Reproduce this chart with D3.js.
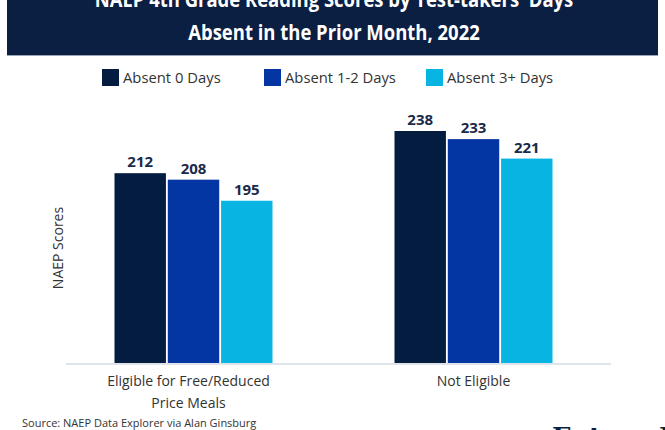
<!DOCTYPE html>
<html>
<head>
<meta charset="utf-8">
<script src="https://cdn.jsdelivr.net/npm/d3@7"></script>
<style>
  html, body { margin: 0; padding: 0; background: #fff; overflow: hidden; }
  svg { display: block; }
</style>
</head>
<body>
<svg id="chart" width="665" height="430"></svg>
<script>
// chart values
const titleLines = ["NAEP 4th Grade Reading Scores by Test-takers' Days", "Absent in the Prior Month, 2022"];
const categories = ["Eligible for Free/Reduced Price Meals", "Not Eligible"];
const categoryLines = [["Eligible for Free/Reduced", "Price Meals"], ["Not Eligible"]];
const seriesNames = ["Absent 0 Days", "Absent 1-2 Days", "Absent 3+ Days"];
const seriesColors = ["#041c40", "#0436a3", "#08b5e2"];
const absent0 = [212, 238];
const absent12 = [208, 233];
const absent3 = [195, 221];
const yLabel = "NAEP Scores";
const sourceText = "Source: NAEP Data Explorer via Alan Ginsburg";

const values = [absent0, absent12, absent3];
const rows = categories.flatMap((c, ci) =>
  seriesNames.map((s, si) => ({ cat: c, series: s, value: values[si][ci], color: seriesColors[si] }))
);

const svg = d3.select("#chart");
const baseY = 363;

// title banner
svg.append("rect").attr("x", 7).attr("y", -2).attr("width", 651).attr("height", 57).attr("fill", "#0b1f43");
svg.append("line").attr("x1", 7).attr("x2", 658).attr("y1", 55.5).attr("y2", 55.5).attr("stroke", "#9aa6b8").attr("stroke-width", 1);
titleLines.forEach((t, i) => {
  svg.append("text")
    .attr("transform", `translate(334,${7 + i * 33}) scale(0.84,1)`)
    .attr("text-anchor", "middle")
    .attr("fill", "#fff")
    .attr("font-family", "'Open Sans', sans-serif")
    .attr("font-weight", "bold")
    .attr("font-size", 22)
    .text(t);
});

// legend
const legendX = [102, 264, 426];
seriesNames.forEach((s, i) => {
  const g = svg.append("g").attr("transform", `translate(${legendX[i]},69)`);
  g.append("rect").attr("width", 17).attr("height", 17).attr("fill", seriesColors[i]);
  g.append("text").attr("x", 21).attr("y", 14)
    .attr("font-family", "'Open Sans', sans-serif").attr("font-size", 14.8)
    .attr("fill", "#333").text(s);
});

// scales
const x0 = d3.scalePoint().domain(categories).range([193.5, 473.5]);
const x1 = d3.scaleBand().domain(seriesNames).range([-79, 79]).paddingInner(0.035);
const y = d3.scaleLinear().domain([95, 238]).range([baseY, 131]);

// bars
svg.append("g").selectAll("rect").data(rows).join("rect")
  .attr("x", d => x0(d.cat) + x1(d.series))
  .attr("y", d => y(d.value))
  .attr("width", x1.bandwidth())
  .attr("height", d => baseY - y(d.value))
  .attr("fill", d => d.color);

// value labels
svg.append("g").selectAll("text").data(rows).join("text")
  .attr("x", d => x0(d.cat) + x1(d.series) + x1.bandwidth() / 2)
  .attr("y", d => y(d.value) - 6)
  .attr("text-anchor", "middle")
  .attr("font-family", "'Open Sans', sans-serif")
  .attr("font-weight", "bold")
  .attr("font-size", 15)
  .attr("fill", "#1a2a4a")
  .text(d => d.value);

// baseline
svg.append("line").attr("x1", 66).attr("x2", 611).attr("y1", baseY + 1).attr("y2", baseY + 1)
  .attr("stroke", "#d5dbe3").attr("stroke-width", 1.5);

// category labels
categories.forEach((c, i) => {
  const t = svg.append("text")
    .attr("text-anchor", "middle")
    .attr("font-family", "'Open Sans', sans-serif")
    .attr("font-size", 14)
    .attr("fill", "#333");
  categoryLines[i].forEach((line, j) => {
    t.append("tspan").attr("x", x0(c) - (i === 0 ? 5 : 0)).attr("y", 386 + j * 22).text(line);
  });
});

// y label
svg.append("text")
  .attr("transform", "translate(63,248) rotate(-90)")
  .attr("text-anchor", "middle")
  .attr("font-family", "'Open Sans', sans-serif")
  .attr("font-size", 14)
  .attr("fill", "#333")
  .text(yLabel);

// source
svg.append("text").attr("x", 22).attr("y", 427)
  .attr("font-family", "'Open Sans', sans-serif").attr("font-size", 11)
  .attr("fill", "#333").text(sourceText);

// logo (cut off at the bottom edge, as in the reference)
svg.append("text").attr("x", 552).attr("y", 446)
  .attr("font-family", "'DejaVu Serif', serif").attr("font-weight", "bold")
  .attr("font-size", 26).attr("fill", "#0b1f43").text("Future Ed");
</script>
</body>
</html>
